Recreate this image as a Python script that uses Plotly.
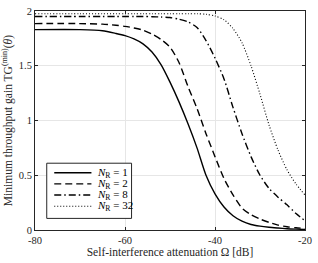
import plotly.graph_objects as go

# ---- data ----
omega_db = [-80, -70, -65, -62, -60, -58, -56, -54, -52, -50, -48, -46, -44, -42,
            -40, -38, -36, -34, -32, -30, -28, -26, -24, -22, -20]
tg_nr1 = [1.83, 1.83, 1.82, 1.795, 1.775, 1.745, 1.70, 1.625, 1.51, 1.35, 1.17, 0.97, 0.75, 0.50,
          0.33, 0.21, 0.13, 0.08, 0.05, 0.035, 0.025, 0.018, 0.012, 0.008, 0.005]
tg_nr2 = [1.885, 1.885, 1.88, 1.87, 1.86, 1.845, 1.825, 1.79, 1.74, 1.67, 1.53, 1.31, 1.11, 0.88,
          0.67, 0.47, 0.32, 0.20, 0.14, 0.10, 0.07, 0.045, 0.03, 0.02, 0.015]
tg_nr8 = [1.95, 1.95, 1.95, 1.95, 1.95, 1.95, 1.95, 1.948, 1.945, 1.94, 1.925, 1.90, 1.85, 1.73,
          1.57, 1.38, 1.12, 0.88, 0.67, 0.50, 0.38, 0.30, 0.23, 0.15, 0.085]
tg_nr32 = [1.975, 1.975, 1.975, 1.975, 1.975, 1.975, 1.975, 1.975, 1.975, 1.975, 1.975, 1.975, 1.975, 1.97,
           1.955, 1.92, 1.84, 1.71, 1.50, 1.24, 0.96, 0.73, 0.55, 0.42, 0.32]
series_names = ["<i>N</i><sub>R</sub> = 1", "<i>N</i><sub>R</sub> = 2",
                "<i>N</i><sub>R</sub> = 8", "<i>N</i><sub>R</sub> = 32"]
x_ticks = [-80, -60, -40, -20]
x_tick_text = ["-80", "-60", "-40", "-20"]
y_ticks = [0, 0.5, 1, 1.5, 2]
y_tick_text = ["0", "0.5", "1", "1.5", "2"]

FONT = "Liberation Serif"
AX = "#262626"
dashes = ["solid", "7px,4px", "7px,3px,1.5px,3px", "1px,2px"]
widths = [1.4, 1.4, 1.4, 1.1]
all_series = [tg_nr1, tg_nr2, tg_nr8, tg_nr32]

fig = go.Figure()
for ys, name, d, w in zip(all_series, series_names, dashes, widths):
    fig.add_trace(go.Scatter(x=omega_db, y=ys, mode="lines", name=name,
                             line=dict(color="#000000", width=w, dash=d,
                                       shape="spline", smoothing=0.7),
                             showlegend=False, hoverinfo="skip"))

# ---- manual legend (compact, like the MATLAB one) ----
shapes = [dict(type="rect", xref="paper", yref="paper", x0=0.0435, x1=0.3576,
               y0=0.053, y1=0.305, line=dict(color=AX, width=1), fillcolor="white",
               layer="above")]
row_y = [0.2616, 0.2106, 0.1596, 0.1086]
annotations = []
for ry, name, d, w in zip(row_y, series_names, dashes, widths):
    shapes.append(dict(type="line", xref="paper", yref="paper", x0=0.0713, x1=0.209,
                       y0=ry, y1=ry, line=dict(color="#000000", width=w, dash=d),
                       layer="above"))
    annotations.append(dict(xref="paper", yref="paper", x=0.222, y=ry, text=name,
                            showarrow=False, xanchor="left", yanchor="middle",
                            font=dict(family=FONT, size=11, color="#000000")))

fig.update_layout(
    width=318, height=263,
    margin=dict(l=35, r=7, t=6, b=31),
    paper_bgcolor="white", plot_bgcolor="white",
    font=dict(family=FONT, size=10, color=AX),
    shapes=shapes, annotations=annotations,
    xaxis=dict(range=[-80, -20], tickvals=x_ticks, ticktext=x_tick_text,
               showgrid=True, gridcolor="#e6e6e6", gridwidth=1,
               showline=True, linecolor=AX, linewidth=1, mirror="ticks",
               ticks="inside", ticklen=3, tickcolor=AX, zeroline=False,
               tickfont=dict(family=FONT, size=10.5, color=AX),
               title=dict(text="Self-interference attenuation Ω [dB]", standoff=3,
                          font=dict(family=FONT, size=11.5, color=AX))),
    yaxis=dict(range=[0, 2], tickvals=y_ticks, ticktext=y_tick_text,
               showgrid=True, gridcolor="#e6e6e6", gridwidth=1,
               showline=True, linecolor=AX, linewidth=1, mirror="ticks",
               ticks="inside", ticklen=3, tickcolor=AX, zeroline=False,
               tickfont=dict(family=FONT, size=10.5, color=AX),
               title=dict(text="Minimum throughput gain TG<sup>(min)</sup>(<i>θ</i>)", standoff=3,
                          font=dict(family=FONT, size=11.5, color=AX))),
)

fig.write_html("out.html", config={"displayModeBar": False},
               post_script="document.body.style.margin='0';document.body.style.overflow='hidden';")
